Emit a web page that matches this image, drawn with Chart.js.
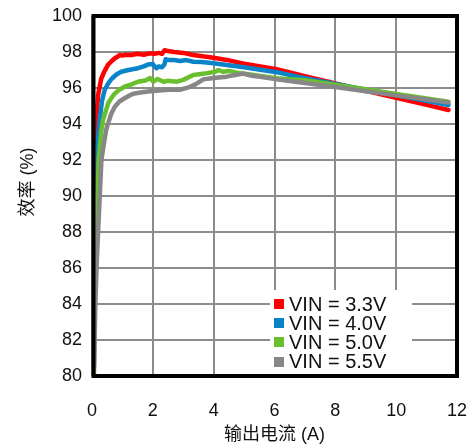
<!DOCTYPE html>
<html><head><meta charset="utf-8">
<script src="https://cdn.jsdelivr.net/npm/chart.js@4/dist/chart.umd.min.js"></script>
<style>html,body{margin:0;padding:0;background:#fff;}#wrap{width:473px;height:446px;}</style>
</head><body><div id="wrap"><canvas id="c" width="473" height="446"></canvas></div>
<script>
const seriesLabels = ['VIN = 3.3V', 'VIN = 4.0V', 'VIN = 5.0V', 'VIN = 5.5V'];
const seriesColors = ['#ff0000', '#0a84c8', '#6abf2f', '#878787'];
const xTickValues = [0, 2, 4, 6, 8, 10, 12];
const yTickValues = [80, 82, 84, 86, 88, 90, 92, 94, 96, 98, 100];
const xTitle = '输出电流 (A)';
const yTitle = '效率 (%)';

const x33 = [0.04,0.06,0.1,0.14,0.2,0.3,0.4,0.53,0.65,0.75,0.85,0.91,1.0,1.1,1.3,1.5,1.7,1.9,2.06,2.2,2.3,2.39,2.5,2.7,3.0,3.33,4.0,4.43,5.0,6.07,7.0,8.0,9.0,10.0,11.0,11.72];
const y33 = [80,88,92.5,94.2,95.6,96.5,96.9,97.3,97.5,97.65,97.75,97.83,97.8,97.85,97.83,97.9,97.85,97.93,97.9,97.95,97.9,98.1,98.05,98.0,97.95,97.83,97.68,97.56,97.35,97.04,96.65,96.25,95.85,95.46,95.06,94.78];

const x40 = [0.05,0.08,0.12,0.18,0.25,0.33,0.42,0.53,0.64,0.8,0.96,1.2,1.51,1.7,1.84,2.0,2.06,2.12,2.2,2.3,2.38,2.42,2.5,2.7,2.9,3.1,3.33,3.6,4.0,4.43,5.0,6.07,7.0,8.0,9.0,10.0,11.0,11.72];
const y40 = [80,86,90,92.8,94.2,95.3,95.9,96.25,96.5,96.75,96.9,97.0,97.1,97.2,97.3,97.33,97.2,97.1,97.2,97.15,97.3,97.6,97.55,97.55,97.5,97.55,97.46,97.45,97.38,97.28,97.15,96.88,96.54,96.23,95.91,95.6,95.29,95.06];

const x50 = [0.06,0.1,0.15,0.22,0.3,0.36,0.45,0.53,0.64,0.75,0.9,1.07,1.3,1.51,1.75,1.91,2.02,2.15,2.35,2.5,2.79,3.0,3.33,3.7,4.05,4.16,4.3,4.5,4.76,5.2,6.07,7.0,8.0,9.0,10.0,11.0,11.72];
const y50 = [80,85,89,92,93.5,94.2,94.7,95.15,95.45,95.7,95.9,96.07,96.2,96.35,96.42,96.55,96.35,96.5,96.35,96.4,96.35,96.45,96.72,96.8,96.9,97.0,96.9,96.95,96.85,96.75,96.54,96.43,96.18,95.93,95.67,95.42,95.24];

const x55 = [0.07,0.11,0.16,0.2,0.25,0.31,0.4,0.47,0.53,0.64,0.75,0.9,1.07,1.25,1.4,1.6,1.84,2.1,2.5,2.89,3.2,3.4,3.66,4.0,4.43,4.7,4.98,5.2,5.53,6.07,7.0,8.0,9.0,10.0,11.0,11.72];
const y55 = [80.5,84,86.5,88,89.8,92,93.0,93.7,94.05,94.6,94.96,95.25,95.43,95.6,95.7,95.75,95.8,95.85,95.9,95.9,96.05,96.2,96.48,96.55,96.63,96.72,96.8,96.7,96.63,96.48,96.28,96.05,95.82,95.59,95.36,95.19];

const seriesX = [x33, x40, x50, x55];
const seriesY = [y33, y40, y50, y55];

const FONT = "'Liberation Sans', Arial, 'Noto Sans CJK SC', sans-serif";
const CJK = "'Liberation Sans', 'Noto Sans CJK SC', sans-serif";

const datasets = seriesLabels.map((lab, i) => ({
  label: lab,
  data: seriesX[i].map((x, j) => ({x: x, y: seriesY[i][j]})),
  borderColor: seriesColors[i],
  backgroundColor: seriesColors[i],
  borderWidth: 4.5,
  pointRadius: 0,
  tension: 0,
  fill: false,
  borderJoinStyle: 'round',
  borderCapStyle: 'round',
  order: 4 - i
}));

const decorPlugin = {
  id: 'decor',
  afterDatasetsDraw(chart) {
    const ctx = chart.ctx;
    const a = chart.chartArea;
    ctx.save();
    ctx.fillStyle = '#fff';
    ctx.fillRect(270, 290, 142, a.bottom - 290);
    ctx.font = '20px ' + FONT;
    ctx.textBaseline = 'middle';
    ctx.textAlign = 'left';
    seriesLabels.forEach((lab, i) => {
      const cy = 304 + i * 19.2;
      ctx.fillStyle = seriesColors[i];
      ctx.fillRect(274, Math.round(cy - 5), 10, 10);
      ctx.fillStyle = '#111';
      ctx.fillText(lab, 289, cy + 1);
    });
    ctx.restore();
  },
  afterDraw(chart) {
    const ctx = chart.ctx;
    const a = chart.chartArea;
    ctx.save();
    ctx.strokeStyle = '#000';
    ctx.lineWidth = 4;
    ctx.strokeRect(a.left + 1.5, a.top, a.right - a.left - 1.5, a.bottom - a.top);
    ctx.translate(28, 182);
    ctx.rotate(-Math.PI / 2);
    ctx.fillStyle = '#111';
    ctx.font = '18px ' + CJK;
    ctx.textAlign = 'center';
    ctx.textBaseline = 'middle';
    ctx.fillText(yTitle, 0, 0);
    ctx.restore();
  }
};

new Chart(document.getElementById('c'), {
  type: 'line',
  data: { datasets },
  plugins: [decorPlugin],
  options: {
    responsive: false,
    animation: false,
    devicePixelRatio: 1,
    layout: { padding: { left: 0, right: 16, top: 16, bottom: 0 } },
    plugins: { legend: { display: false }, tooltip: { enabled: false } },
    scales: {
      x: {
        type: 'linear', min: 0, max: 12,
        afterBuildTicks: s => { s.ticks = xTickValues.map(v => ({value: v})); },
        afterFit: s => { s.height = 70; s.paddingLeft = 0; s.paddingRight = 0; },
        ticks: { font: { size: 18, family: FONT }, color: '#111', padding: 24, maxRotation: 0 },
        grid: { color: '#8c8c8c', lineWidth: 2, drawTicks: false },
        border: { display: false },
        title: { display: true, text: xTitle, font: { size: 18, family: CJK }, color: '#111', padding: { top: 0, bottom: 0 } }
      },
      y: {
        type: 'linear', min: 80, max: 100,
        afterBuildTicks: s => { s.ticks = yTickValues.map(v => ({value: v})); },
        afterFit: s => { s.width = 92; s.paddingTop = 0; s.paddingBottom = 0; },
        ticks: { font: { size: 18, family: FONT }, color: '#111', padding: 10 },
        grid: { color: '#8c8c8c', lineWidth: 2, drawTicks: false },
        border: { display: false }
      }
    }
  }
});
</script></body></html>
